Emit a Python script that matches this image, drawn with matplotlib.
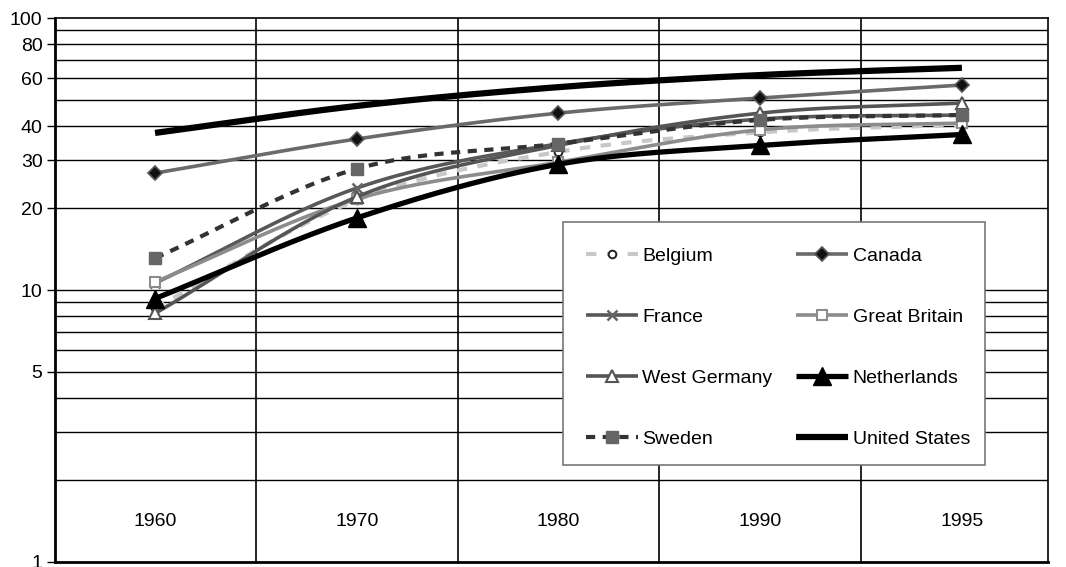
import numpy as np
import matplotlib
matplotlib.use("Agg")
import matplotlib.pyplot as plt
from matplotlib.patches import Rectangle
from matplotlib.ticker import FixedLocator, FixedFormatter, NullFormatter, NullLocator

plt.rcParams['font.family'] = ['Liberation Sans', 'DejaVu Sans']

years = ["1960", "1970", "1980", "1990", "1995"]
belgium = [8.6, 21.4, 32.2, 38.0, 40.5]
canada = [26.9, 35.9, 44.7, 50.8, 56.7]
france = [10.6, 23.7, 34.5, 42.5, 44.0]
great_britain = [10.7, 21.6, 29.5, 38.8, 41.1]
west_germany = [8.2, 22.0, 34.0, 44.7, 48.7]
netherlands = [9.3, 18.4, 29.0, 34.0, 37.3]
sweden = [13.1, 27.9, 34.5, 42.2, 44.0]
united_states = [37.8, 47.5, 55.7, 61.7, 65.6]

ytick_vals = [1, 5, 10, 20, 30, 40, 60, 80, 100]
grid_vals = [2, 3, 4, 5, 6, 7, 8, 9, 10, 20, 30, 40, 50, 60, 70, 80, 90]

N = 40  # samples per segment for smoothing


def smooth(vals):
    x = np.arange(len(vals), dtype=float)
    y = np.log10(np.asarray(vals, dtype=float))
    px = np.concatenate([[2 * x[0] - x[1]], x, [2 * x[-1] - x[-2]]])
    py = np.concatenate([[2 * y[0] - y[1]], y, [2 * y[-1] - y[-2]]])
    xs, ys = [], []
    t = np.linspace(0, 1, N, endpoint=False)
    def cr(a0, a1, a2, a3):
        return 0.5 * ((2 * a1) + (-a0 + a2) * t + (2 * a0 - 5 * a1 + 4 * a2 - a3) * t ** 2
                      + (-a0 + 3 * a1 - 3 * a2 + a3) * t ** 3)
    for i in range(1, len(px) - 2):
        xs.append(cr(px[i - 1], px[i], px[i + 1], px[i + 2]))
        ys.append(cr(py[i - 1], py[i], py[i + 1], py[i + 2]))
    xs.append([x[-1]])
    ys.append([y[-1]])
    return np.concatenate(xs), 10 ** np.concatenate(ys)


W, H = 1066, 567
fig = plt.figure(figsize=(W / 100, H / 100), dpi=100)
ax = fig.add_axes([55 / W, 5 / H, 993 / W, 544 / H])
ax.set_yscale('log')
ax.set_ylim(1, 100)
ax.set_xlim(-0.496, 4.427)

for g in grid_vals:
    ax.axhline(g, color='black', lw=1.0, zorder=0)
for b in np.arange(0.5, len(years) - 0.5, 1.0):
    ax.axvline(b, color='black', lw=1.2, zorder=0)

series = [
    ("Belgium", belgium, dict(color='#c8c8c8', lw=3, dashes=(2.5, 2.5), marker='o', ms=5.5,
                               mfc='white', mec='#222222', mew=1.4)),
    ("Canada", canada, dict(color='#6a6a6a', lw=2.6, marker='D', ms=7, mfc='#111111', mec='#555555', mew=1.2)),
    ("France", france, dict(color='#585858', lw=2.6, marker='x', ms=7, mec='#666666', mew=1.8)),
    ("Great Britain", great_britain, dict(color='#8c8c8c', lw=2.6, marker='s', ms=6.5, mfc='white',
                                           mec='#8c8c8c', mew=1.5)),
    ("West Germany", west_germany, dict(color='#555555', lw=2.6, marker='^', ms=8, mfc='white',
                                         mec='#555555', mew=1.5)),
    ("Netherlands", netherlands, dict(color='black', lw=3.8, marker='^', ms=13, mfc='black', mec='black')),
    ("Sweden", sweden, dict(color='#333333', lw=3, dashes=(2.2, 1.8), marker='s', ms=8,
                             mfc='#666666', mec='#666666')),
    ("United States", united_states, dict(color='black', lw=4.5)),
]

handles = {}
for name, vals, kw in series:
    xs, ys = smooth(vals)
    marks = [i * N for i in range(len(vals))]
    h, = ax.plot(xs, ys, markevery=marks, label=name, solid_capstyle='butt',
                 dash_capstyle='butt', zorder=3, **kw)
    handles[name] = h

ax.yaxis.set_major_locator(FixedLocator(ytick_vals))
ax.yaxis.set_major_formatter(FixedFormatter([str(v) for v in ytick_vals]))
ax.yaxis.set_minor_locator(NullLocator())
ax.yaxis.set_minor_formatter(NullFormatter())
ax.tick_params(axis='y', length=6, width=1, labelsize=14, pad=3)
ax.set_xticks([])

for i, yr in enumerate(years):
    ax.text(i, 40 / 544, yr, transform=ax.get_xaxis_transform(), ha='center', va='center',
            fontsize=14)

for s in ['left', 'bottom']:
    ax.spines[s].set_linewidth(2)
for s in ['top', 'right']:
    ax.spines[s].set_linewidth(1.2)

# legend box (drawn separately to match the asymmetric padding)
box = Rectangle((563 / W, 1 - 465 / H), (985 - 563) / W, (465 - 222) / H,
                transform=fig.transFigure, facecolor='white', edgecolor='#777777',
                lw=1.2, zorder=4)
ax.add_patch(box)
box.set_clip_on(False)

order = ["Belgium", "France", "West Germany", "Sweden", "Canada", "Great Britain",
         "Netherlands", "United States"]
leg = ax.legend([handles[n] for n in order], order, ncol=2, loc='upper left',
                bbox_to_anchor=(586 / W, 1 - 247 / H),
                bbox_transform=fig.transFigure, frameon=False, prop=dict(size=14),
                handlelength=2.68, labelspacing=2.24, columnspacing=1.22,
                borderpad=0, handletextpad=0.22, borderaxespad=0)
leg.set_zorder(5)

fig.savefig("out.png", dpi=100)
